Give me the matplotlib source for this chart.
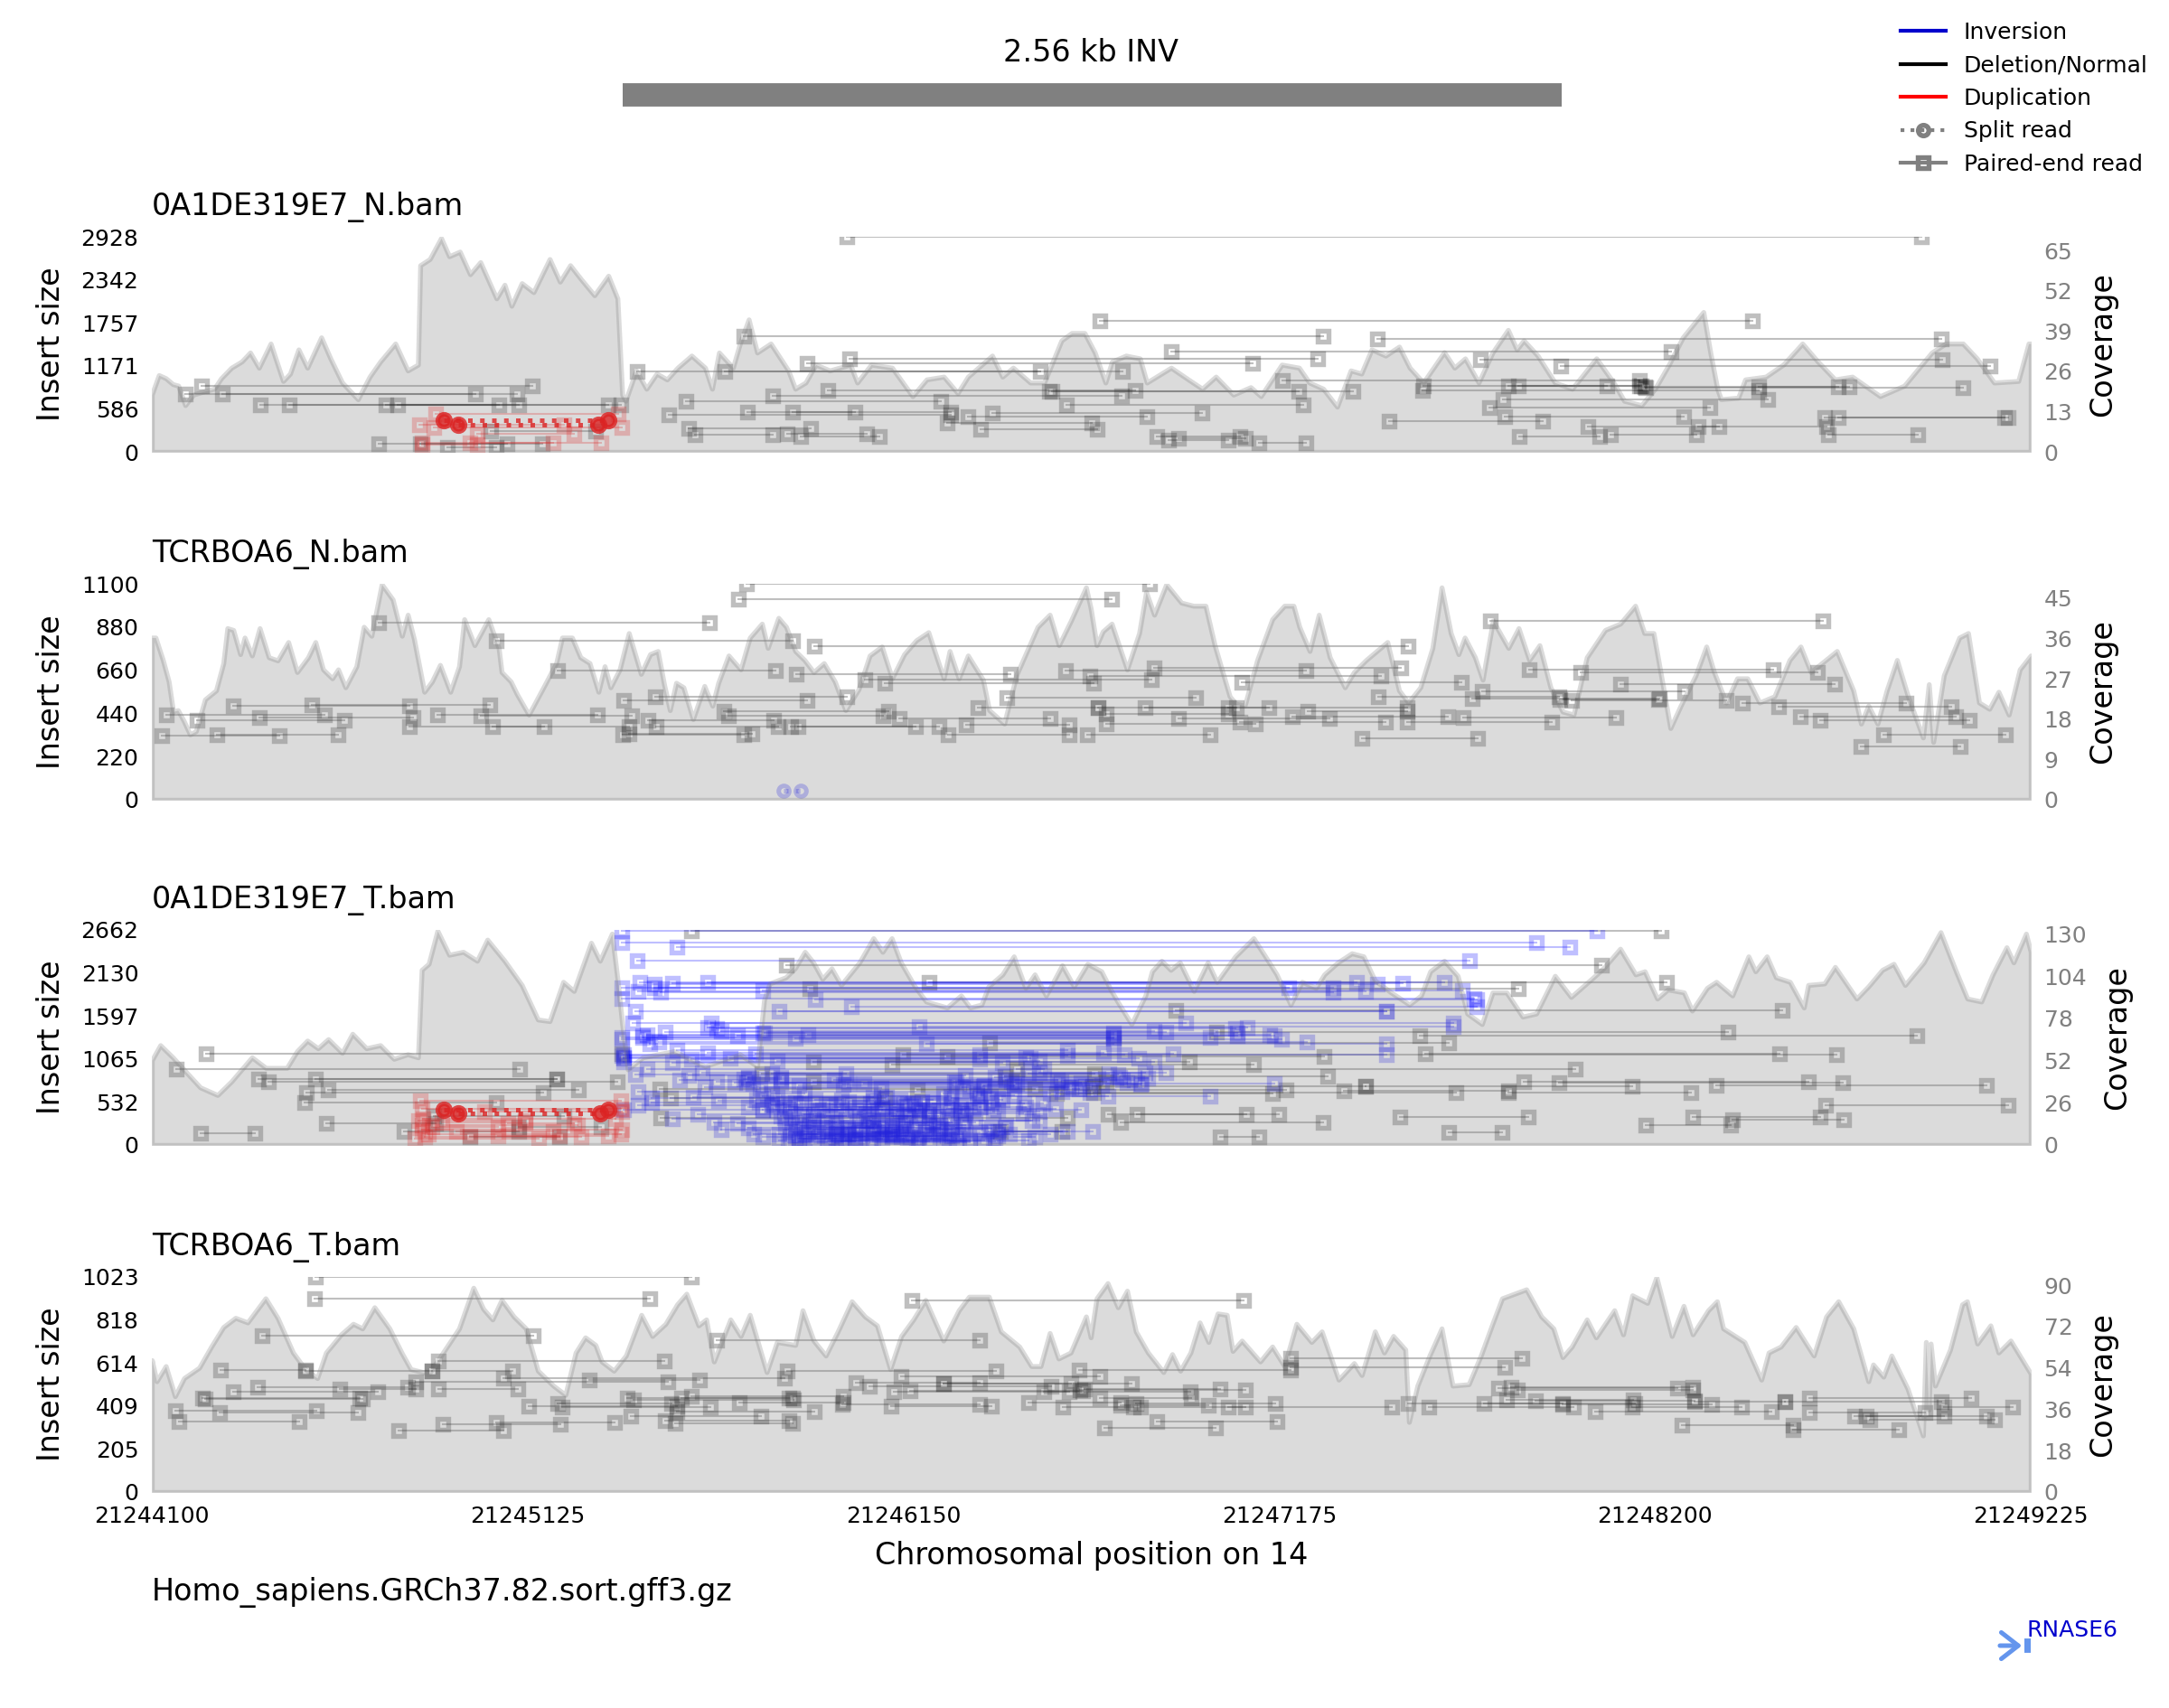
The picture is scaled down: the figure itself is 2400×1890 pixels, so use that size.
#!/usr/bin/env python3
# Read evidence around an inversion: insert size and coverage for four BAM files.
import matplotlib
matplotlib.use("Agg")
import matplotlib.pyplot as plt
from matplotlib.lines import Line2D

WIN_START = 21244100
WIN_END = 21249225
SV_START = 21245384
SV_END = 21247945
GENE_START = 21249207
GENE_END = 21249225

X_TICKS = [21244100, 21245125, 21246150, 21247175, 21248200, 21249225]

# --- sample 1: 0A1DE319E7_N.bam ---  (offset from window start, coverage)
COV_1 = [(0,18.5),(19,24.8),(38,23.8),(57,21.9),(72,21.4),(91,15.1),(113,18.5),(141,19.5),(170,20.4),(189,23.8),
 (217,27.2),(245,29.2),(268,32.1),(292,27.2),(324,35),(358,22.9),(377,25.3),(400,33.1),(424,27.2),(462,37),
 (487,30.2),(519,22.4),(562,17),(594,24.3),(623,29.2),(664,35),(698,26.3),(726,28.2),(732,60.3),(758,62.3),
 (789,69.1),(811,63.2),(840,64.7),(868,57.4),(896,61.3),(940,49.6),(962,54),(981,47.2),(1009,54.5),(1041,51.6),
 (1085,62.3),(1113,55),(1141,60.3),(1170,55.9),(1207,50.6),(1245,56.9),(1270,49.6),(1283,18.5),(1292,16.5),(1321,26.3),
 (1349,20.4),(1377,25.3),(1405,23.4),(1434,27.2),(1472,31.1),(1509,27.2),(1528,20.4),(1547,32.1),(1585,27.2),(1604,35),
 (1628,42.8),(1651,32.1),(1688,35),(1736,26.3),(1755,20.4),(1783,22.4),(1811,28.2),(1849,26.3),(1905,28.2),(1924,22.4),
 (1962,28.2),(2019,27.2),(2075,18),(2113,23.4),(2160,24.3),(2198,19),(2226,24.3),(2292,31.1),(2320,24.3),(2349,27.2),
 (2396,22.4),(2434,22.4),(2481,36),(2509,38.4),(2544,38.4),(2572,32.1),(2601,22.4),(2619,29.2),(2657,31.1),(2695,30.2),
 (2714,22.4),(2780,27.2),(2827,23.4),(2865,20.4),(2902,24.3),(2950,18.5),(2997,20.9),(3025,18),(3082,28.2),(3129,27.2),
 (3157,22.4),(3195,20.4),(3233,14.6),(3270,26.3),(3299,25.3),(3327,33.1),(3365,31.1),(3402,34),(3431,27.2),(3468,22.4),
 (3525,32.2),(3553,27.2),(3582,30.2),(3619,22.4),(3657,32.1),(3699,39.4),(3723,33.1),(3742,36),(3780,31.1),(3827,22.4),
 (3874,20.4),(3940,30.2),(3987,22.4),(4016,16.5),(4063,15.1),(4100,20.4),(4138,28.2),(4176,37),(4232,45.2),(4251,32.1),
 (4270,20.4),(4280,17),(4327,17.5),(4346,23.4),(4402,24.3),(4450,28.2),(4502,35),(4544,29.2),(4591,23.4),(4638,24.3),
 (4714,18),(4780,21.4),(4855,32.1),(4893,35),(4940,35),(4978,30.2),(5025,22.4),(5091,22.9),(5119,35),(5125,35)]
# paired-end reads: (left offset, right offset, insert size)
PAIRS_GREY_1 = [(136,1038,894),(91,883,787),(192,996,787),(296,947,636),(374,1000,636),(638,1245,636),(670,1279,640),
 (619,968,115),(732,1066,115),(805,940,60),(924,1211,287),(1324,2424,1095),(1562,2648,1090),(1788,3003,1210),
 (1902,3180,1271),(1615,3195,1579),(1896,4827,2928),(2585,4365,1784),(2780,4144,1365),(3342,4880,1538),(3623,4883,1259),
 (3842,5015,1169),(3085,4057,976),(1843,2682,840),(1694,2646,758),(2456,3129,828),(2449,3276,820),(2494,3140,644),
 (1456,2151,689),(1411,2179,500),(1624,1919,541),(1749,2179,541),(2226,2714,484),(2292,2865,533),(2170,2563,390),
 (2260,2578,308),(1464,1798,320),(1481,1694,238),(1732,1949,246),(1770,1985,205),(2742,2968,205),(2774,2935,164),
 (2801,2982,185),(3021,3148,123),(3374,3795,422),(3685,4408,709),(3648,4251,603),(3691,4178,484),(3729,3950,205),
 (3978,4214,238),(3916,4274,344),(4219,4568,344),(4563,5053,471),(4600,5063,471),(4572,4817,234),(3468,3968,902),
 (3465,4383,840),(3700,4057,902),(3727,4063,895),(4072,4600,881),(4383,4629,881),(4076,4940,869)]
PAIRS_RED_1 = [(773,1273,512),(730,1123,369),(770,1283,328),(887,1151,246),(736,1226,123),(868,1094,123),(736,887,103)]
SPLIT_RED_1 = [(796,1245,426),(836,1217,369)]

# --- sample 2: TCRBOA6_N.bam ---
COV_2 = [(0,36.2),(10,36.2),(30,31.2),(46,26.4),(58,19.7),(71,20),(87,17.6),(104,14.6),(120,15.3),(145,22.4),
 (175,24.4),(195,30.5),(206,38.3),(222,37.9),(241,32.5),(253,36.2),(273,32.2),(294,38.3),(319,31.8),(343,31.1),
 (372,35.2),(396,28.5),(426,31.8),(446,35.2),(467,29.1),(492,27.1),(508,29.1),(528,25.1),(558,29.8),(578,38.6),
 (599,36.6),(627,48.1),(657,44.7),(682,36.6),(698,41.3),(715,35.9),(743,24.1),(764,26.4),(786,30.1),(814,24.1),
 (838,29.8),(852,40.3),(880,34.5),(918,40.3),(946,33.9),(954,28.5),(979,26.4),(995,23.7),(1028,19),(1070,25.4),
 (1103,30.5),(1119,36.2),(1146,36.2),(1169,31.8),(1194,30.5),(1218,24.1),(1235,29.8),(1251,25.1),(1276,29.1),(1301,37.2),
 (1334,28.1),(1359,32.5),(1380,33.2),(1397,25.8),(1413,20),(1430,26.1),(1450,25.1),(1476,18),(1507,25.4),(1529,21),
 (1545,26.1),(1573,32.2),(1606,29.1),(1631,36.2),(1664,39.3),(1680,33.9),(1709,40.6),(1730,38.6),(1755,33.2),(1780,31.2),
 (1805,28.5),(1833,30.5),(1863,26.4),(1892,20),(1928,24.7),(1958,32.2),(1991,34.2),(2019,27.1),(2052,32.5),(2085,35.6),
 (2118,37.4),(2143,31.2),(2160,27.1),(2176,33.2),(2201,27.1),(2226,32.2),(2267,26.8),(2284,20),(2325,17),(2358,27.8),
 (2416,38.6),(2449,41.3),(2474,34.5),(2507,40),(2548,47.4),(2561,42.7),(2577,34.5),(2594,37.6),(2618,39.3),(2660,29.1),
 (2693,37.2),(2712,46.4),(2734,41.3),(2767,48.1),(2808,44),(2841,43.3),(2874,43.3),(2899,34.5),(2940,23.1),(2957,21.4),
 (2981,21),(3015,31.2),(3056,40.3),(3089,43.3),(3114,43.3),(3130,38.6),(3158,33.2),(3183,41.3),(3213,31.8),(3254,25.1),
 (3279,28.5),(3312,31.2),(3370,35.2),(3402,24.4),(3427,21.7),(3460,25.1),(3493,33.9),(3518,47.4),(3543,37.2),(3564,32.5),
 (3581,36.2),(3609,31.8),(3630,26.8),(3658,40),(3700,33.9),(3728,38.3),(3757,31.2),(3785,34.5),(3815,25.1),(3848,19.7),
 (3878,19),(3914,31.8),(3964,37.9),(4005,39.3),(4046,43.3),(4071,37.2),(4096,37.2),(4121,25.8),(4142,16),(4170,21),
 (4211,27.8),(4240,34.2),(4261,28.5),(4294,21.7),(4324,27.1),(4352,27.1),(4385,21.7),(4426,23.1),(4467,31.2),(4497,34.2),
 (4525,28.5),(4596,33.2),(4641,24.4),(4662,17),(4682,21),(4707,17),(4732,24.4),(4760,31.2),(4790,23.1),(4831,13.9),
 (4847,25.8),(4859,12.9),(4888,27.8),(4930,36.2),(4954,37.2),(4984,21.7),(5012,20.3),(5037,24.1),(5065,19),(5095,29.1),
 (5125,32.2)]
PAIRS_GREY_2 = [(619,1521,901),(938,1747,808),(1601,2617,1023),(1621,2721,1100),(1106,1702,657),(1758,2341,642),
 (1808,3426,781),(2493,3147,660),(1945,2726,611),(2000,2569,594),(2559,3353,630),(2734,3406,673),(2973,3571,600),
 (2333,2846,518),(1286,1788,508),(1372,1895,526),(2254,2580,468),(1560,2008,449),(1573,1994,426),(223,702,480),
 (436,921,484),(40,472,434),(124,525,403),(294,712,417),(779,1215,434),(702,1070,375),(897,1310,426),(929,1301,375),
 (26,347,326),(177,507,333),(1285,1615,330),(1301,1636,336),(1354,1697,407),(1375,1709,372),(1744,2082,375),
 (1763,2146,375),(2039,2451,412),(2221,2501,380),(2173,2501,333),(2552,2886,333),(2709,3048,468),(2580,2957,468),
 (2935,3424,468),(2602,2935,437),(2800,3213,412),(2603,3010,387),(2968,3365,398),(3110,3535,423),(3152,3424,449),
 (3424,3819,398),(3576,3994,418),(3300,3617,315),(3345,3837,526),(3629,4182,554),(3601,4112,515),(3873,4294,506),
 (3650,4558,912),(3758,4423,665),(3898,4542,647),(4005,4591,588),(3840,4109,511),(4339,4786,491),(4438,4908,472),
 (4497,4921,423),(4550,4958,407),(4723,5057,333),(4662,4933,272)]
SPLIT_BLUE_2 = [(1722,1771,48)]

# --- sample 3: 0A1DE319E7_T.bam ---
COV_3 = [(0,52.2),(23,61.5),(57,54),(94,44.8),(132,35.5),(179,30.8),(217,39.2),(273,54),(311,47.5),(368,47.5),
 (396,57.8),(424,64.3),(453,59.6),(481,65.2),(519,56.8),(547,68.5),(585,59.6),(623,61.5),(660,53.1),(698,55.9),
 (726,54),(736,107.9),(755,111.6),(779,132),(811,117.2),(849,119),(887,113.5),(915,126.5),(962,113.5),(1009,98.6),
 (1053,77.3),(1085,76.3),(1122,100.5),(1151,94.9),(1198,124.6),(1222,113.5),(1255,130.2),(1270,102.3),(1283,74.5),(1298,46.6),
 (1339,54),(1424,57.8),(1509,48.5),(1604,55.9),(1651,48.5),(1670,89.3),(1685,99.5),(1729,103.3),(1754,108.8),(1781,119),
 (1804,112.5),(1829,102.3),(1854,108.8),(1880,98.6),(1930,112.5),(1968,127.4),(1993,119),(2018,127.4),(2043,112.5),(2081,97.7),
 (2112,88.4),(2169,84.7),(2207,92.1),(2232,84.7),(2263,86.5),(2282,97.7),(2320,105.1),(2351,116.2),(2383,96.8),(2408,105.1),
 (2439,92.1),(2483,110.7),(2515,97.7),(2552,111.6),(2590,107),(2615,95.8),(2634,88.4),(2672,74.5),(2710,92.1),(2728,107),
 (2754,113.5),(2779,107.9),(2804,112.5),(2842,94.9),(2880,112.5),(2905,100.5),(2955,116.2),(3005,127.4),(3037,116.2),(3068,105.1),
 (3106,86.5),(3137,100.5),(3175,96.8),(3198,105.1),(3235,112.5),(3273,118.1),(3305,116.2),(3336,101.4),(3380,94),(3430,86.5),
 (3462,92.1),(3487,107),(3525,113.5),(3562,104.2),(3588,81),(3628,74.5),(3657,94),(3695,94),(3739,79.1),(3776,81),
 (3827,104.2),(3871,91.2),(3927,102.3),(3959,108.8),(4005,120.9),(4047,105.1),(4072,107),(4106,90.2),(4135,95.8),(4179,94),
 (4201,82.8),(4242,96.8),(4267,100.5),(4311,92.1),(4355,116.2),(4374,107),(4405,116.2),(4430,103.3),(4468,100.5),(4506,84.7),
 (4518,98.6),(4562,99.5),(4591,109.7),(4650,90.2),(4682,97.7),(4720,107.9),(4751,111.6),(4782,98.6),(4833,112.5),(4879,131.1),
 (4921,107),(4952,90.2),(4990,88.4),(5021,105.1),(5059,121.8),(5078,112.5),(5112,130.2),(5125,119)]
PAIRS_GREY_3 = [(147,1283,1133),(66,1004,943),(292,1104,816),(317,1270,787),(447,1104,816),(481,1164,682),(421,1068,645),
 (417,940,526),(477,773,272),(134,281,145),(689,1000,164),(770,1123,358),(868,1113,97),(1000,1226,227),(1471,4116,2651),
 (1731,3955,2229),(2119,4131,2017),(1795,3728,1935),(2794,4448,1670),(2905,4298,1398),(3458,4814,1353),(2286,3537,1260),
 (3474,4440,1133),(2049,4594,1122),(2169,3198,1092),(1804,2829,1029),(2018,3005,992),(1663,2571,880),(2358,3883,936),
 (2326,3208,854),(1804,2603,787),(2087,3093,682),(3251,3701,675),(2565,3311,731),(3311,4037,731),(2569,3556,645),
 (3701,4198,645),(3741,4518,787),(3837,4613,775),(4267,5005,738),(2467,3056,637),(1385,2408,693),(1414,1999,582),
 (2609,2986,377),(2688,3075,384),(2643,3194,283),(2913,3020,104),(1387,2496,339),(2314,2483,164),(3405,3754,350),
 (3537,3684,153),(4074,4307,246),(4204,4550,350),(4311,4615,309),(4566,5063,496)]
PAIRS_RED_3 = [(732,1279,544),(736,1160,246),(740,1264,321),(736,1283,190),(745,1170,97),(764,943,227),(792,1019,283),
 (830,1094,171),(868,1113,116),(906,1283,414),(943,1245,116),(972,1151,265),(717,1056,78),(726,1019,302),(736,1279,451),
 (755,1279,134)]
SPLIT_RED_3 = [(796,1245,432),(836,1223,388)]
PAIRS_BLUE_3 = [(1282,3942,2651),(1282,3776,2501),(1433,3867,2446),(1324,3594,2285),(1282,3223,1942),(1332,3286,2017),
 (1370,3342,1991),(1389,3223,1886),(1420,3412,1998),(1515,3525,2017),(1666,3575,1912),(1326,3311,1905),(1370,3100,1942),
 (1282,3606,1812),(1810,3613,1804),(1907,3615,1711),(1320,3368,1652),(1710,3368,1652),(1527,2820,1514),(1311,3550,1514),
 (2093,3550,1469),(1540,2955,1439),(1553,2735,1409),(1666,2622,1383),(1399,2766,1394),(1351,2622,1364),(1282,2622,1335),
 (1339,2886,1335),(1597,2961,1357),(1672,2961,1383),(1789,3049,1364),(1754,2622,1320),(1515,2987,1458),(1339,3062,1357),
 (1282,3081,1309),(2112,2622,1253),(1383,3150,1271),(1358,3368,1253),(1433,2496,1178),(1515,2596,1141),(1647,2785,1133),
 (1282,2496,1103),(1288,2653,1122),(1288,2383,1085),(1288,2691,1074),(1578,2395,1074),(1471,2257,1066),(1706,2420,1036),
 (1420,2320,1021),(1288,2735,1029),(2257,3368,1122),(1351,2433,936),(1320,2634,872),(1502,2766,898),(1628,2716,824),
 (1861,2647,805),(1439,2471,805),(1716,2659,768),(1540,2345,787),(1590,2194,768),(1465,2219,861),(1622,2534,768),
 (1766,2351,738),(1886,2697,749),(1326,2483,656),(1508,2508,712),(1942,3062,757),(2288,2886,600),(1666,2609,608),
 (1364,2257,582),(1477,1968,589),(1420,1766,328),(1490,1804,377),(1534,1867,283),(1553,1917,190),(1597,1955,265),
 (1641,2018,134),(1666,2043,97),(1628,1980,209),(1704,2081,432),(1716,2093,358),(1729,2119,246),(1741,2144,171),
 (1754,2169,116),(1766,2194,78),(1779,2031,377),(1792,2056,302),(1804,2081,227),(1817,2106,153),(1829,2219,432),
 (1842,2119,358),(1854,2131,283),(1867,2150,209),(1880,2181,116),(1892,2232,60),(1741,1917,432),(1691,1867,488),
 (1710,2005,134),(1754,1968,209),(1779,1993,78),(1804,1892,358),(1817,1993,432),(1842,1968,209),(1867,2043,134),
 (1917,2093,97),(1942,2207,395),(1968,2169,321),(1993,2219,246),(2018,2181,190),(1917,2295,78),(1968,2257,153),
 (2018,2307,116),(2049,2326,209),(2068,2408,97),(2119,2376,395),(2093,2307,432),(2169,2464,451),(2207,2534,432),
 (2213,2420,302),(2282,2565,171),(2307,2496,164),(2257,2383,470),(2295,2420,414),(2181,2307,582),(2251,2351,619),
 (2269,2546,731),(1546,1968,544),(1628,1993,470),(1666,2093,432),(1326,1741,488),(1288,1666,432),(1364,1754,526),
 (1710,1804,60),(1735,1842,30),(1754,1867,78),(1766,1917,41),(1854,1968,52),(1867,2018,97),(1779,1898,134),(1804,1930,190),
 (1898,2018,209),(1955,2068,358),(1980,2119,432),(2018,2144,358),(2031,2219,414),(2056,2181,283),(2081,2207,488),
 (1628,1716,843),(1691,1892,880),(1615,1716,820),(1640,1900,760),(1660,1990,700),(1690,1780,640),(1705,2005,590),
 (1650,1880,560),(1690,2050,500),(1725,2030,470),(1770,2060,520),(1810,2130,560),(1850,2180,500),(1880,2240,450),
 (1900,2100,540),(1930,2260,470),(1960,2290,520),(1990,2180,600),(2040,2320,560),(2075,2380,510),(2130,2430,520),
 (2160,2450,640),(2190,2480,780),(2210,2500,720),(2230,2530,690),(2250,2560,650),(2270,2590,740),(2300,2640,840),
 (2330,2680,800),(2360,2700,760),(2390,2610,880),(2420,2710,900),(2180,2400,300),(2140,2330,250),(2110,2290,200),
 (1725,1930,330),(1745,1950,280),(1770,2000,240),(1790,2030,160),(1825,2060,110),(1845,2090,60),(1880,2120,40),
 (1900,2150,150),(1935,2175,70),(1960,2230,30),(1985,2210,130),(2040,2245,280),(2060,2270,60),(2085,2300,45),
 (2130,2340,130),(2160,2390,60),(2200,2450,130)]

# --- sample 4: TCRBOA6_T.bam ---
COV_4 = [(0,57.4),(13,48.2),(38,54.8),(63,41.7),(88,49.6),(129,54.1),(162,63.3),(195,71.8),(228,75.8),(261,73.8),
 (310,84.3),(343,75.8),(385,60.7),(418,53.5),(451,49.6),(475,60.7),(516,68.6),(549,73.2),(574,71.2),(607,80.4),
 (648,71.2),(681,60.7),(706,53.5),(756,51.5),(805,63.3),(838,71.2),(877,88.9),(904,79.7),(929,75.1),(954,83.6),
 (987,76.4),(1020,71.2),(1053,52.8),(1095,46.3),(1128,42.3),(1156,60.7),(1182,67.3),(1210,64),(1227,56.8),(1260,52.8),
 (1293,59.4),(1335,77.1),(1365,67.9),(1401,73.2),(1433,81.7),(1458,86.3),(1491,72.5),(1512,75.1),(1533,56.8),(1578,75.1),
 (1606,67.9),(1631,77.1),(1677,52.2),(1705,65.3),(1755,64),(1775,79.1),(1805,65.9),(1838,59.4),(1871,69.9),(1909,83),
 (1945,76.4),(1978,72.5),(2014,53.5),(2044,67.9),(2077,75.1),(2110,83.6),(2159,65.9),(2201,79.1),(2229,85),(2283,85),
 (2316,69.9),(2366,63.3),(2399,54.8),(2424,54.8),(2449,69.2),(2473,58.1),(2506,60.7),(2548,76.4),(2561,67.3),(2577,84.3),
 (2607,90.9),(2635,80.4),(2660,87.6),(2684,69.9),(2717,60.7),(2759,52.2),(2783,60),(2805,52.8),(2833,60.7),(2858,73.8),
 (2882,65.3),(2907,77.7),(2932,77.1),(2948,61.4),(2973,65.9),(3023,56.8),(3056,63.3),(3089,54.8),(3122,73.2),(3163,65.3),
 (3191,69.9),(3237,48.9),(3279,56.1),(3300,50.9),(3336,69.9),(3361,60.7),(3386,67.9),(3419,62),(3429,30.5),(3452,46.3),
 (3485,59.4),(3518,71.2),(3548,46.3),(3592,46.9),(3625,59.4),(3658,73.8),(3683,84.3),(3749,88.2),(3790,76.4),(3823,71.2),
 (3848,58.7),(3873,63.3),(3914,75.1),(3939,67.3),(3989,79.1),(4013,68.6),(4038,85.6),(4079,82.3),(4104,93.5),(4146,67.9),
 (4178,81),(4203,68.6),(4245,79.1),(4269,83),(4286,71.2),(4344,65.3),(4390,48.9),(4410,60.7),(4443,63.3),(4484,71.8),
 (4533,59.4),(4567,76.4),(4600,83),(4641,71.2),(4682,48.2),(4695,55.5),(4723,50.2),(4745,59.4),(4789,45),(4831,24.6),
 (4839,65.3),(4847,35.8),(4852,64.6),(4864,46.3),(4905,62),(4938,81.7),(4951,83),(4979,64.6),(5015,72.5),(5037,60.7),
 (5070,65.9),(5125,51.5)]
PAIRS_GREY_4 = [(447,1471,1022),(444,1359,921),(300,1040,745),(1540,2259,721),(2074,2978,911),(781,1397,623),(187,418,580),
 (418,764,575),(764,984,575),(958,1725,542),(1734,2303,575),(2044,2585,549),(2528,3105,580),(3105,3691,592),(3105,3738,638),
 (1194,1494,534),(720,1408,523),(781,999,489),(289,698,499),(221,616,477),(512,720,491),(145,574,441),(137,566,448),
 (64,449,387),(185,563,380),(74,401,334),(674,958,291),(794,1114,324),(938,1261,331),(1029,1433,410),(1106,1417,420),
 (1119,1524,403),(1296,1739,448),(1314,1750,437),(1445,1747,448),(1471,1887,456),(1602,1887,427),(1433,1808,383),
 (1306,1661,362),(1400,1739,338),(1428,1748,327),(1920,2259,520),(1957,2452,503),(2024,2503,477),(2069,2539,480),
 (2160,2506,517),(2160,2673,517),(1884,2259,417),(2016,2291,410),(2391,2643,427),(2485,2676,403),(2432,2833,477),
 (2531,2982,484),(2544,2915,489),(2585,2835,448),(2643,2882,413),(2696,2982,405),(2684,3064,420),(2742,3069,334),
 (2598,2901,305),(2935,3383,405),(3427,3848,420),(3482,3878,403),(3634,4046,420),(3695,4041,438),(3774,4208,434),
 (3848,4256,415),(3936,4418,384),(4038,4335,405),(3672,4162,496),(3708,4203,499),(3726,4203,484),(4208,4454,431),
 (4174,4476,319),(4476,4765,298),(4520,4963,448),(4454,4880,431),(4522,4836,377),(4644,4888,362),(4677,5004,362),
 (4687,5026,344),(4888,5075,403)]

TITLES = ["0A1DE319E7_N.bam", "TCRBOA6_N.bam", "0A1DE319E7_T.bam", "TCRBOA6_T.bam"]
INSERT_TICKS = [[0, 586, 1171, 1757, 2342, 2928], [0, 220, 440, 660, 880, 1100],
                [0, 532, 1065, 1597, 2130, 2662], [0, 205, 409, 614, 818, 1023]]
COV_TICKS = [[0, 13, 26, 39, 52, 65], [0, 9, 18, 27, 36, 45], [0, 26, 52, 78, 104, 130], [0, 18, 36, 54, 72, 90]]
COV_TOPS = [69.5, 48.2, 132.5, 93.6]

W, H = 2400, 1890
LEFT, RIGHT = 168, 2247
PANELS_PX = [(262, 500), (646, 885), (1029, 1267), (1413, 1651)]


def add_axes_px(fig, top, bottom):
    return fig.add_axes([LEFT / W, 1 - bottom / H, (RIGHT - LEFT) / W, (bottom - top) / H])


def hide_frame(ax):
    for side in ax.spines.values():
        side.set_visible(False)
    ax.tick_params(length=0)


def draw_pairs(ax, pairs, color):
    for a, b, ins in pairs:
        ax.plot([WIN_START + a, WIN_START + b], [ins, ins], color=color, alpha=0.25, lw=0.5,
                marker="s", ms=2.8, mew=1.3, mfc="none")


def draw_splits(ax, splits, color, alpha):
    filled = alpha >= 0.5
    for a, b, ins in splits:
        ax.plot([WIN_START + a, WIN_START + b], [ins, ins], color=color, alpha=alpha, lw=1.2, ls=":",
                marker="o", ms=3.4 if filled else 2.8, mew=1.2, mfc=color if filled else "none")


fig = plt.figure(figsize=(8, 6.3), dpi=300)

# structural variant bar
ax_sv = add_axes_px(fig, 75, 135)
ax_sv.plot([SV_START, SV_END], [0, 0], color="grey", lw=6.2, solid_capstyle="butt")
ax_sv.set_xlim(WIN_START, WIN_END)
ax_sv.set_ylim(-1, 1)
ax_sv.axis("off")
fig.text((LEFT + RIGHT) / 2 / W, 1 - 58 / H, "2.56 kb INV", fontsize=8, ha="center", va="center")

coverage = [COV_1, COV_2, COV_3, COV_4]
grey = [PAIRS_GREY_1, PAIRS_GREY_2, PAIRS_GREY_3, PAIRS_GREY_4]
red = [PAIRS_RED_1, [], PAIRS_RED_3, []]
blue = [[], [], PAIRS_BLUE_3, []]
split_red = [SPLIT_RED_1, [], SPLIT_RED_3, []]
split_blue = [[], SPLIT_BLUE_2, [], []]

for i, (top, bottom) in enumerate(PANELS_PX):
    ax = add_axes_px(fig, top, bottom)
    draw_pairs(ax, grey[i], "black")
    draw_pairs(ax, blue[i], "blue")
    draw_pairs(ax, red[i], "red")
    draw_splits(ax, split_red[i], "red", 0.8)
    draw_splits(ax, split_blue[i], "blue", 0.25)
    ax.set_xlim(WIN_START, WIN_END)
    ax.set_ylim(0, INSERT_TICKS[i][-1])
    ax.set_yticks(INSERT_TICKS[i])
    ax.tick_params(axis="y", labelsize=6)
    ax.set_ylabel("Insert size", fontsize=8)
    ax.set_title(TITLES[i], loc="left", fontsize=8, pad=5.8)
    hide_frame(ax)
    if i == len(PANELS_PX) - 1:
        ax.set_xticks(X_TICKS)
        ax.set_xticklabels([str(t) for t in X_TICKS], fontsize=6)
        ax.set_xlabel("Chromosomal position on 14", fontsize=8, labelpad=3.8)
    else:
        ax.set_xticks([])

    # coverage sits on the twin axis, filled under a soft grey outline
    ax2 = ax.twinx()
    xs = [WIN_START + p for p, _ in coverage[i]]
    ys = [v for _, v in coverage[i]]
    ax2.fill_between(xs, ys, 0, color="grey", alpha=0.28, lw=1.3)
    ax2.set_xlim(WIN_START, WIN_END)
    ax2.set_ylim(0, COV_TOPS[i])
    ax2.set_yticks(COV_TICKS[i])
    ax2.tick_params(axis="y", labelsize=6, labelcolor="grey")
    ax2.set_ylabel("Coverage", fontsize=8)
    hide_frame(ax2)

# annotation track
ax_gene = add_axes_px(fig, 1780, 1862)
ax_gene.set_xlim(WIN_START, WIN_END)
ax_gene.set_ylim(0, 1)
ax_gene.axis("off")
ax_gene.set_title("Homo_sapiens.GRCh37.82.sort.gff3.gz", loc="left", fontsize=8, pad=2.1)
ax_gene.plot([GENE_START, GENE_END], [0.5, 0.5], color="cornflowerblue", lw=3.8, solid_capstyle="butt")
ax_gene.annotate("", xy=(GENE_START - 6, 0.5), xytext=(GENE_START - 66, 0.5),
                 arrowprops=dict(arrowstyle="->,head_length=0.45,head_width=0.35", color="cornflowerblue", lw=1.2,
                                 shrinkA=0, shrinkB=0))
ax_gene.text(GENE_START + 8, 0.56, "RNASE6", color="mediumblue", fontsize=6, va="bottom", ha="left")

handles = [
    Line2D([], [], color="mediumblue", lw=1),
    Line2D([], [], color="black", lw=1),
    Line2D([], [], color="red", lw=1),
    Line2D([], [], color="grey", lw=1, ls=":", marker="o", ms=2.8, mew=1.3, mfc="none"),
    Line2D([], [], color="grey", lw=1, marker="s", ms=2.8, mew=1.3, mfc="none"),
]
labels = ["Inversion", "Deletion/Normal", "Duplication", "Split read", "Paired-end read"]
fig.legend(handles, labels, loc="upper right", fontsize=6, frameon=False,
           bbox_to_anchor=(0.9945, 0.9926), borderaxespad=0, labelspacing=0.5)

fig.savefig("out.png", dpi=300)
